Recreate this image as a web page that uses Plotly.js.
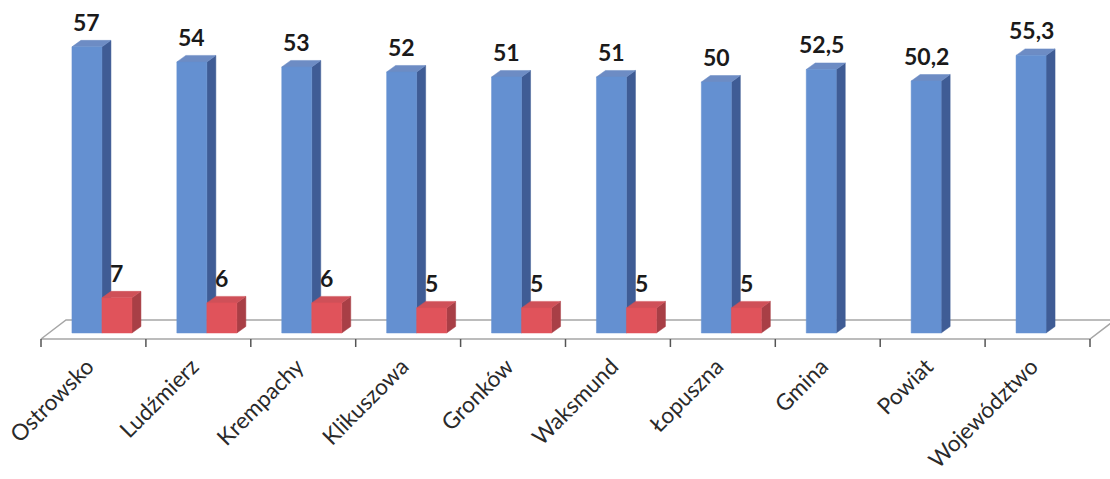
<!DOCTYPE html>
<html>
<head>
<meta charset="utf-8">
<script src="https://cdn.plot.ly/plotly-3.0.1.min.js"></script>
<style>html,body{margin:0;padding:0;background:#fff;}#chart{width:1110px;height:479px;}</style>
</head>
<body>
<div id="chart"></div>
<script>
// ---- data ----
var categories = ["Ostrowsko", "Ludźmierz", "Krempachy", "Klikuszowa", "Gronków", "Waksmund", "Łopuszna", "Gmina", "Powiat", "Województwo"];
var seriesA = [57, 54, 53, 52, 51, 51, 50, 52.5, 50.2, 55.3];
var seriesB = [7, 6, 6, 5, 5, 5, 5, null, null, null];

// ---- geometry (style only) ----
var PX_X = 104.9;          // px per category
var PX_Y = 5.02;           // px per unit
var BAR_W = 30 / PX_X;
var OFFS_A = -21.5 / PX_X;
var DX = 9 / PX_X, DY = 6.5 / PX_Y;
var FLOOR_FRONT = -6 / PX_Y, FLOOR_BACK = 13 / PX_Y, FLOOR_DX = 25 / PX_X;
var TICK_LEN = 8 / PX_Y;
var LABEL_SHIFT = -6 / PX_X;

var xMin = -0.5 - 41 / PX_X, xMax = xMin + 1110 / PX_X;
var yMin = -14 / PX_Y, yMax = yMin + 347 / PX_Y;

function fmt(v){ return String(v).replace('.', ','); }

var traces = [];
// floor
traces.push({
  x: [-0.5, 9.5, 9.5 + FLOOR_DX, -0.5 + FLOOR_DX, -0.5],
  y: [FLOOR_FRONT, FLOOR_FRONT, FLOOR_BACK, FLOOR_BACK, FLOOR_FRONT],
  mode: 'lines', fill: 'toself', fillcolor: '#ffffff',
  line: {color: '#a6a6a6', width: 1.5}, hoverinfo: 'skip', showlegend: false
});
// ticks
var tx = [], ty = [];
for (var k = 0; k <= categories.length; k++) {
  tx.push(k - 0.5, k - 0.5, null);
  ty.push(FLOOR_FRONT, FLOOR_FRONT - TICK_LEN, null);
}
traces.push({x: tx, y: ty, mode: 'lines', line: {color: '#555', width: 1.5}, hoverinfo: 'skip', showlegend: false});

function addBars(values, offset, cFront, cSide, cTop) {
  var sx = [], sy = [], topx = [], topy = [], fx = [], fy = [];
  values.forEach(function(v, i) {
    if (v === null) return;
    var x0 = i + offset, x1 = x0 + BAR_W;
    fx.push(x0, x1, x1, x0, x0, null); fy.push(0, 0, v, v, 0, null);
    sx.push(x1, x1 + DX, x1 + DX, x1, x1, null); sy.push(0, DY, v + DY, v, 0, null);
    topx.push(x0, x1, x1 + DX, x0 + DX, x0, null); topy.push(v, v, v + DY, v + DY, v, null);
  });
  [[sx, sy, cSide], [topx, topy, cTop], [fx, fy, cFront]].forEach(function(f) {
    traces.push({x: f[0], y: f[1], mode: 'lines', fill: 'toself', fillcolor: f[2],
      line: {color: f[2], width: 0.5}, hoverinfo: 'skip', showlegend: false});
  });
}
addBars(seriesA, OFFS_A, '#6490d1', '#3f5c95', '#6d8cc4');
addBars(seriesB, OFFS_A + BAR_W, '#e0535b', '#a83f46', '#cf5058');

var annotations = [];
function addLabels(values, offset) {
  values.forEach(function(v, i) {
    if (v === null) return;
    annotations.push({x: i + offset + BAR_W / 2, y: v, text: fmt(v), showarrow: false,
      xanchor: 'center', yanchor: 'bottom', yshift: 9,
      font: {family: 'Lato, sans-serif', size: 23, color: '#1a1a1a', weight: 'bold'}});
  });
}
addLabels(seriesA, OFFS_A);
addLabels(seriesB, OFFS_A + BAR_W);

var layout = {
  width: 1110, height: 479,
  margin: {l: 0, r: 0, t: 0, b: 132, pad: 0},
  paper_bgcolor: '#ffffff', plot_bgcolor: '#ffffff',
  showlegend: false,
  xaxis: {range: [xMin, xMax], tickvals: categories.map(function(c, i){ return i + LABEL_SHIFT; }), ticktext: categories,
    tickangle: -45, showgrid: false, zeroline: false, showline: false, ticks: '',
    ticklabelstandoff: 1, ticklabeloverflow: 'allow',
    tickfont: {family: 'Lato, sans-serif', size: 22.5, color: '#2a2a2a'}, automargin: false, fixedrange: true},
  yaxis: {range: [yMin, yMax], visible: false, fixedrange: true},
  annotations: annotations
};
Plotly.newPlot('chart', traces, layout, {displayModeBar: false, staticPlot: true});
</script>
</body>
</html>
